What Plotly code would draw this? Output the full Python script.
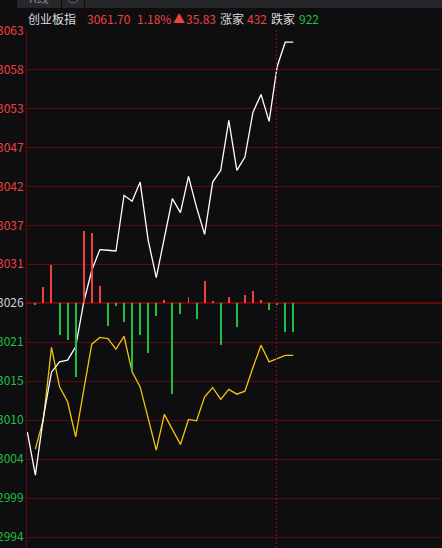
import plotly.graph_objects as go

# ---------------- data ----------------
prev_close = 3025.87
tick_step = 5.348
tick_labels = ["2994", "2999", "3004", "3010", "3015", "3021", "3026",
               "3031", "3037", "3042", "3047", "3053", "3058", "3063"]

name = "创业板指"
last_price = 3061.70
pct_change = 1.18
abs_change = 35.83
up_count = 432
down_count = 922

slots = list(range(34))
index_line = [3008.22, 3002.28, 3010.24, 3016.41, 3017.82, 3018.05, 3019.88, 3026.01,
              3030.40, 3033.23, 3033.14, 3033.04, 3040.68, 3039.86, 3042.50, 3034.51,
              3029.39, 3034.96, 3040.23, 3038.31, 3043.29, 3039.03, 3035.33, 3042.50,
              3044.11, 3050.96, 3044.11, 3045.93, 3052.10, 3054.53, 3050.83, 3058.37,
              3061.70, 3061.70]
avg_line = [None, 3005.85, 3009.92, 3019.80, 3014.39, 3012.34, 3007.54, 3013.94,
            3020.25, 3021.17, 3021.03, 3019.56, 3021.34, 3016.45, 3014.39, 3010.06,
            3005.71, 3010.61, 3008.55, 3006.49, 3009.92, 3009.73, 3013.02, 3014.31,
            3012.66, 3014.04, 3013.39, 3013.80, 3017.05, 3020.11, 3017.82, 3018.29,
            3018.70, 3018.70]
bar_values = [0, -1.5, 15.7, 38, -32, -37, -74, 72, 70, 16.6, -22.7, -3.3, -19.3, -68,
              -31.7, -50, -13.3, 3.3, -90.7, -11, 6, -16, 22.3, 1.6, -42.3, 6.3, -24.3,
              8.3, 11.7, 2.7, -7.3, -2.3, -29.3, -29.3]
session_mark = 30.9

# ---------------- style ----------------
W, H = 442, 548
L, T = 27, 30
BG = "#0e0e11"
GRID = "#5e0a0a"
RED = "#f0413f"
GREEN = "#1fbf45"
TXT = "#dcdcdc"
FONT = "Noto Sans CJK SC"


def px(xp):
    return (xp - L) / (W - L)


def py(yp):
    return (H - yp) / (H - T)


center_px = 303
px_per_unit = 39 / tick_step
y_top = prev_close + (center_px - T + 0.5) / px_per_unit
y_bot = prev_close - (H - center_px) / px_per_unit

tickvals = [prev_close + i * tick_step for i in range(-6, 8)]
ticktext = []
for i, lab in zip(range(-6, 8), tick_labels):
    col = RED if i > 0 else (GREEN if i < 0 else "#d0d0d0")
    ticktext.append(f'<span style="color:{col}">{lab}</span>')

fig = go.Figure()

bar_colors = [RED if v > 0 else GREEN for v in bar_values]
fig.add_trace(go.Bar(x=slots, y=bar_values, yaxis="y2", width=0.125,
                     marker=dict(color=bar_colors, line=dict(width=0)),
                     hoverinfo="skip"))
fig.add_trace(go.Scatter(x=slots, y=avg_line, mode="lines",
                         line=dict(color="#f2c40c", width=1.3), hoverinfo="skip"))
fig.add_trace(go.Scatter(x=slots, y=index_line, mode="lines",
                         line=dict(color="#ffffff", width=1.3), hoverinfo="skip"))

x0 = -0.3 / 8.06
x1 = (W - L - 0.3) / 8.06

fig.update_layout(
    width=W, height=H,
    margin=dict(l=L, r=0, t=T, b=0, pad=0),
    paper_bgcolor=BG, plot_bgcolor=BG,
    showlegend=False,
    bargap=0,
    font=dict(family=FONT, size=12, color=TXT),
    xaxis=dict(range=[x0, x1], showgrid=False, zeroline=False,
               showticklabels=False, ticks="", fixedrange=True),
    yaxis=dict(range=[y_bot, y_top], tickvals=tickvals, ticktext=ticktext,
               showgrid=True, gridcolor=GRID, gridwidth=1, zeroline=False,
               showline=True, linecolor=GRID, linewidth=1,
               ticks="", automargin=False,
               tickfont=dict(family=FONT, size=12)),
    yaxis2=dict(range=[-(H - center_px), center_px - T], overlaying="y",
                showgrid=False, showticklabels=False, zeroline=True,
                zerolinecolor="#6a0808", zerolinewidth=2, ticks=""),
)

shapes = []
# vertical dotted session marker
shapes.append(dict(type="line", xref="x", yref="paper", x0=session_mark, x1=session_mark,
                   y0=0, y1=1, line=dict(color="#9a1010", width=1, dash="2px,2px"),
                   layer="above"))
# top tab bar
for a, b in [(17, 61), (62, 84), (85, 442)]:
    shapes.append(dict(type="rect", xref="paper", yref="paper",
                       x0=px(a), x1=px(b), y0=py(8), y1=py(0),
                       fillcolor="#27272b", line=dict(width=0), layer="above"))
shapes.append(dict(type="circle", xref="paper", yref="paper",
                   x0=px(67), x1=px(79), y0=py(3), y1=py(-9),
                   line=dict(color="#6a6a6e", width=1), layer="above"))
fig.update_layout(shapes=shapes)

annotations = [
    dict(text="K线", x=px(27), y=py(-2), xanchor="left", yanchor="middle",
         font=dict(size=12, color="#8a8a8e", family=FONT)),
]
header = [
    (name, 26, TXT),
    (f"{last_price:.2f}", 85, RED),
    (f"{pct_change:.2f}%", 135, RED),
    ("▲", 171, RED),
    (f"{abs_change:.2f}", 184, RED),
    ("涨家", 218, TXT),
    (f"{up_count}", 245, RED),
    ("跌家", 269, TXT),
    (f"{down_count}", 297, GREEN),
]
for txt, xp, col in header:
    annotations.append(dict(text=txt, x=px(xp), y=py(18), xanchor="left",
                            yanchor="middle", font=dict(size=12, color=col, family=FONT)))
for a in annotations:
    a.update(xref="paper", yref="paper", showarrow=False)
fig.update_layout(annotations=annotations)

fig.write_html(
    "out.html",
    config={"displayModeBar": False},
    post_script="document.body.style.margin='0';document.body.style.overflow='hidden';"
                "document.documentElement.style.overflow='hidden';",
)
